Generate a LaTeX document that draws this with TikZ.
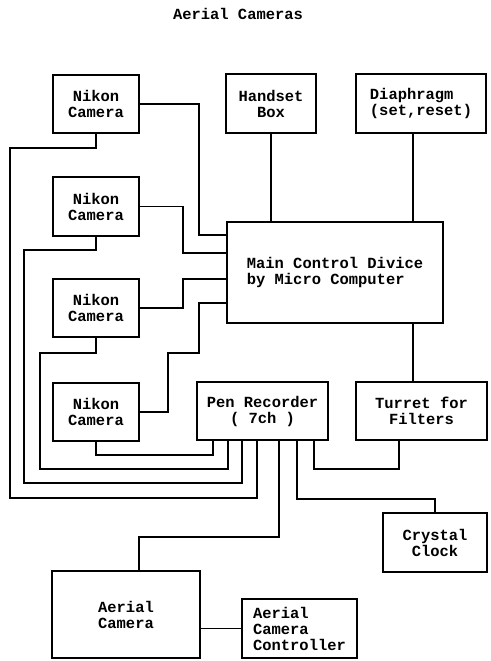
\documentclass[tikz,border=0pt]{standalone}
\usepackage{fontspec}
\setmonofont{Liberation Mono}
\usepackage{tikz}
\usetikzlibrary{
  calc,       % 坐标计算
  positioning % 节点相对定位
}
\newcommand{\camfont}{\ttfamily\bfseries\fontsize{11.6}{12}\selectfont} % 打字机风格字体

\tikzset{
  blk/.style={draw, line width=1.3pt, inner sep=0pt, align=center, font=\camfont}, % 方框
  wire/.style={line width=0.9pt}, % 连线
}

\begin{document}
\begin{tikzpicture}[x=0.75pt, y=-0.75pt] % 用像素坐标，y 向下
  \useasboundingbox (0,0) rectangle (491,661); % 固定画布大小

  % ======= 标题 =======
  \node[font=\camfont] (title) at (238,14) {Aerial Cameras};

  % ======= 上部方框 =======
  \node[blk, minimum width=64.5pt, minimum height=43.5pt] (nk1) at (96,104) {Nikon\\Camera}; % 第一台相机
  \node[blk, minimum width=64.5pt, minimum height=44.25pt] (nk2) at (96,206.5) {Nikon\\Camera}; % 第二台相机
  \node[blk, minimum width=64.5pt, minimum height=43.5pt] (nk3) at (96,308) {Nikon\\Camera}; % 第三台相机
  \node[blk, minimum width=64.5pt, minimum height=43.5pt] (nk4) at (96,412) {Nikon\\Camera}; % 第四台相机
  \node[blk, minimum width=67.5pt, minimum height=44.25pt] (hand) at (271,103.5) {Handset\\Box}; % 手柄盒
  \node[blk, minimum width=97.5pt, minimum height=44.25pt, align=left] (diaph) at (421,103.5) {Diaphragm\\(set,reset)}; % 光圈
  \node[blk, minimum width=162pt, minimum height=75.75pt, align=left] (main) at (335,272.5) {Main Control Divice\\by Micro Computer}; % 主控

  % ======= 下部方框 =======
  \node[blk, minimum width=98.25pt, minimum height=43.5pt] (pen) at (262.5,411) {Pen Recorder\\( 7ch )}; % 记录仪
  \node[blk, minimum width=98.25pt, minimum height=43.5pt] (turret) at (421.5,411) {Turret for\\Filters}; % 滤镜转台
  \node[blk, minimum width=78pt, minimum height=44.25pt] (clock) at (435,542.5) {Crystal\\Clock}; % 晶振时钟
  \node[blk, minimum width=111pt, minimum height=65.25pt] (aer) at (126,614.5) {Aerial\\Camera}; % 航空相机
  \node[blk, minimum width=86.25pt, minimum height=44.25pt, align=left] (ctrl) at (299.5,628.5) {Aerial\\Camera\\Controller}; % 控制器

  % ======= 相机到主控 =======
  \draw[wire] (nk1.east) -| (199,235) -- (main.west |- 0,235);
  \draw[wire] (nk2.east) -| (183,253) -- (main.west |- 0,253);
  \draw[wire] (nk3.east) -| (183,279) -- (main.west |- 0,279);
  \draw[wire] (nk4.east) -| (168,353) -| (199,303) -- (main.west |- 0,303);

  % ======= 主控上下的竖线 =======
  \draw[wire] (hand.south) -- (hand.south |- main.north);
  \draw[wire] (diaph.south -| 413,0) -- (main.north -| 413,0);
  \draw[wire] (main.south -| 413,0) -- (turret.north -| 413,0);

  % ======= 相机到记录仪 (由内向外) =======
  \draw[wire] (nk4.south) |- (213,455) -- (pen.south -| 213,0);
  \draw[wire] (nk3.south) |- (40,353) |- (228,469) -- (pen.south -| 228,0);
  \draw[wire] (nk2.south) |- (24,250) |- (242,483) -- (pen.south -| 242,0);
  \draw[wire] (nk1.south) |- (10,148) |- (257,498) -- (pen.south -| 257,0);

  % ======= 记录仪到其他设备 =======
  \draw[wire] (pen.south -| 279,0) |- (139,537) -- (aer.north -| 139,0);
  \draw[wire] (pen.south -| 297,0) |- (435,499) -- (clock.north);
  \draw[wire] (pen.south -| 314,0) |- (399,469) -- (turret.south -| 399,0);
  \draw[wire] (aer.east |- ctrl.west) -- (ctrl.west); % 相机与控制器
\end{tikzpicture}
\end{document}
